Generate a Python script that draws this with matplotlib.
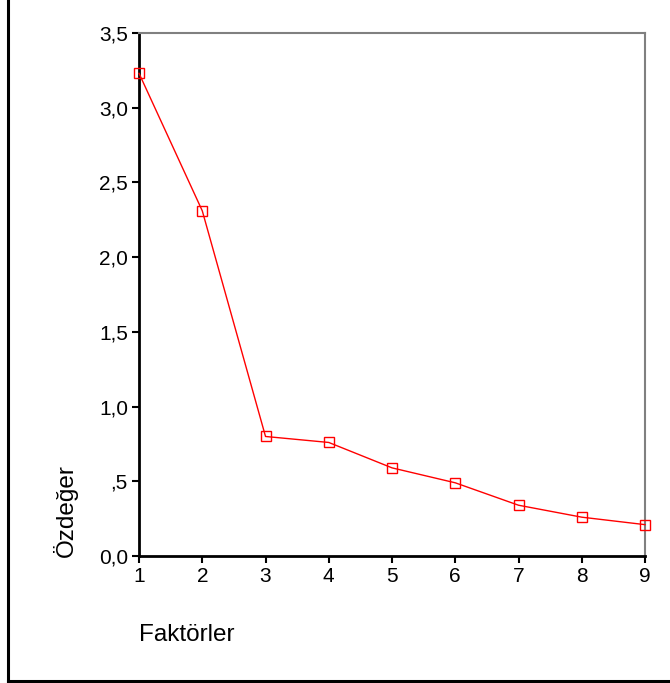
import matplotlib
matplotlib.use("Agg")
import matplotlib.pyplot as plt
from matplotlib.lines import Line2D

plt.rcParams['font.family'] = ['Liberation Sans', 'DejaVu Sans']

# scree plot values
factors = [1, 2, 3, 4, 5, 6, 7, 8, 9]
eigenvalues = [3.23, 2.31, 0.80, 0.76, 0.59, 0.49, 0.34, 0.26, 0.21]
y_ticks = [0.0, 0.5, 1.0, 1.5, 2.0, 2.5, 3.0, 3.5]
y_tick_labels = ['0,0', ',5', '1,0', '1,5', '2,0', '2,5', '3,0', '3,5']

fig = plt.figure(figsize=(6.7, 6.83), dpi=100)
ax = fig.add_axes([0.2075, 0.1859, 0.7552, 0.7658])

ax.plot(factors, eigenvalues, color='#ff0000', linewidth=1,
        marker='s', markersize=7, markerfacecolor='none',
        markeredgecolor='#ff0000', markeredgewidth=1, clip_on=False, zorder=5)

ax.set_xlim(1, 9)
ax.set_ylim(0, 3.5)
ax.set_xticks(factors)
ax.set_xticklabels([str(f) for f in factors])
ax.set_yticks(y_ticks)
ax.set_yticklabels(y_tick_labels)
ax.tick_params(direction='out', length=5, width=1.5, labelsize=15,
               top=False, right=False, colors='black', pad=3)

ax.spines['left'].set_linewidth(2)
ax.spines['bottom'].set_linewidth(2)
ax.spines['top'].set_color('#808080')
ax.spines['right'].set_color('#808080')
ax.spines['top'].set_linewidth(1.5)
ax.spines['right'].set_linewidth(1.5)

fig.text(65 / 670, 1 - 557 / 683, 'Özdeğer', rotation=90, fontsize=17.5,
         ha='center', va='bottom')
fig.text(139 / 670, 1 - 635 / 683, 'Faktörler', fontsize=17.5,
         ha='left', va='center')

# outer frame (left and bottom edges only)
fig.add_artist(Line2D([8 / 670, 8 / 670], [1 - 681 / 683, 1.0],
                      transform=fig.transFigure, color='black', linewidth=2.2))
fig.add_artist(Line2D([8 / 670, 1.0], [1 - 681 / 683, 1 - 681 / 683],
                      transform=fig.transFigure, color='black', linewidth=2.2))

fig.savefig('out.png', dpi=100)
